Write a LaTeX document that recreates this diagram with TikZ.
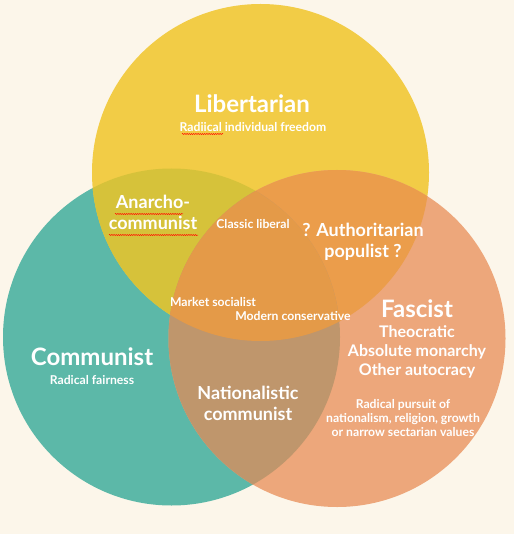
\documentclass[tikz,border=0pt]{standalone}
\usepackage{fontspec}
\setmainfont{Lato}
\usepackage{xcolor}
\usepackage{tikz}
\usetikzlibrary{decorations.pathmorphing}

\definecolor{paper}{HTML}{FCF6EA}
\definecolor{libcol}{HTML}{F2CC46}
\definecolor{comcol}{HTML}{5CB8A8}
\definecolor{fascol}{HTML}{EDA77B}
\definecolor{libcom}{HTML}{D6C23A}
\definecolor{libfas}{HTML}{EB9D4B}
\definecolor{comfas}{HTML}{BF966C}
\definecolor{allcol}{HTML}{E49A48}

\tikzset{
  big/.style={text=white, font=\bfseries\fontsize{24}{26}\selectfont, align=center},
  mid/.style={text=white, font=\bfseries\fontsize{18}{21}\selectfont, align=center},
  list/.style={text=white, font=\bfseries\fontsize{16}{19}\selectfont, align=center},
  small/.style={text=white, font=\bfseries\fontsize{12.2}{14}\selectfont, align=center},
  squiggle/.style={red!85!orange, line width=0.5pt, decorate,
    decoration={snake, amplitude=0.6pt, segment length=2.2pt}}
}

\begin{document}
\begin{tikzpicture}[x=1pt, y=-1pt]
\fill[paper] (0,0) rectangle (514,534);
\useasboundingbox (0,0) rectangle (514,534);

% the three circles
\coordinate (lib) at (260.5,172.5);
\coordinate (com) at (171.5,337);
\coordinate (fas) at (337,338.5);
\fill[comcol] (com) circle[radius=168.5pt];
\fill[libcol] (lib) circle[radius=168.5pt];
\fill[fascol] (fas) circle[radius=168.5pt];

% overlaps
\begin{scope}
\clip (lib) circle[radius=168.5pt];
\fill[libcom] (com) circle[radius=168.5pt];
\fill[libfas] (fas) circle[radius=168.5pt];
\end{scope}
\begin{scope}
\clip (com) circle[radius=168.5pt];
\fill[comfas] (fas) circle[radius=168.5pt];
\clip (lib) circle[radius=168.5pt];
\fill[allcol] (fas) circle[radius=168.5pt];
\end{scope}

% labels
\node[big] (libtitle) at (252,104) {Libertarian};
\node[small] (libnote) at (253,127) {Radiical individual freedom};
\node[big] (comtitle) at (92,357) {Communist};
\node[small] (comnote) at (92,380) {Radical fairness};
\node[big] (fastitle) at (417,309) {Fascist};
\node[list] (faslist) at (417,352) {Theocratic\\Absolute monarchy\\Other autocracy};
\node[small] (fasnote) at (403,418) {Radical pursuit of\\nationalism, religion, growth\\or narrow sectarian values};

\node[mid] (anarcho) at (153,212) {Anarcho-\\communist};
\node[small] (classic) at (253,224) {Classic liberal};
\node[mid] (autho) at (363,242) {? Authoritarian\\populist ?};
\node[small] (market) at (213,302) {Market socialist};
\node[small] (modern) at (293,316) {Modern conservative};
\node[mid] (natcom) at (248,403) {Nationalistic\\communist};

% spell-check marks
\draw[squiggle] (182,134) -- (223,134);
\draw[squiggle] (115,214) -- (183,214);
\draw[squiggle] (109,235) -- (198,235);
\end{tikzpicture}
\end{document}
